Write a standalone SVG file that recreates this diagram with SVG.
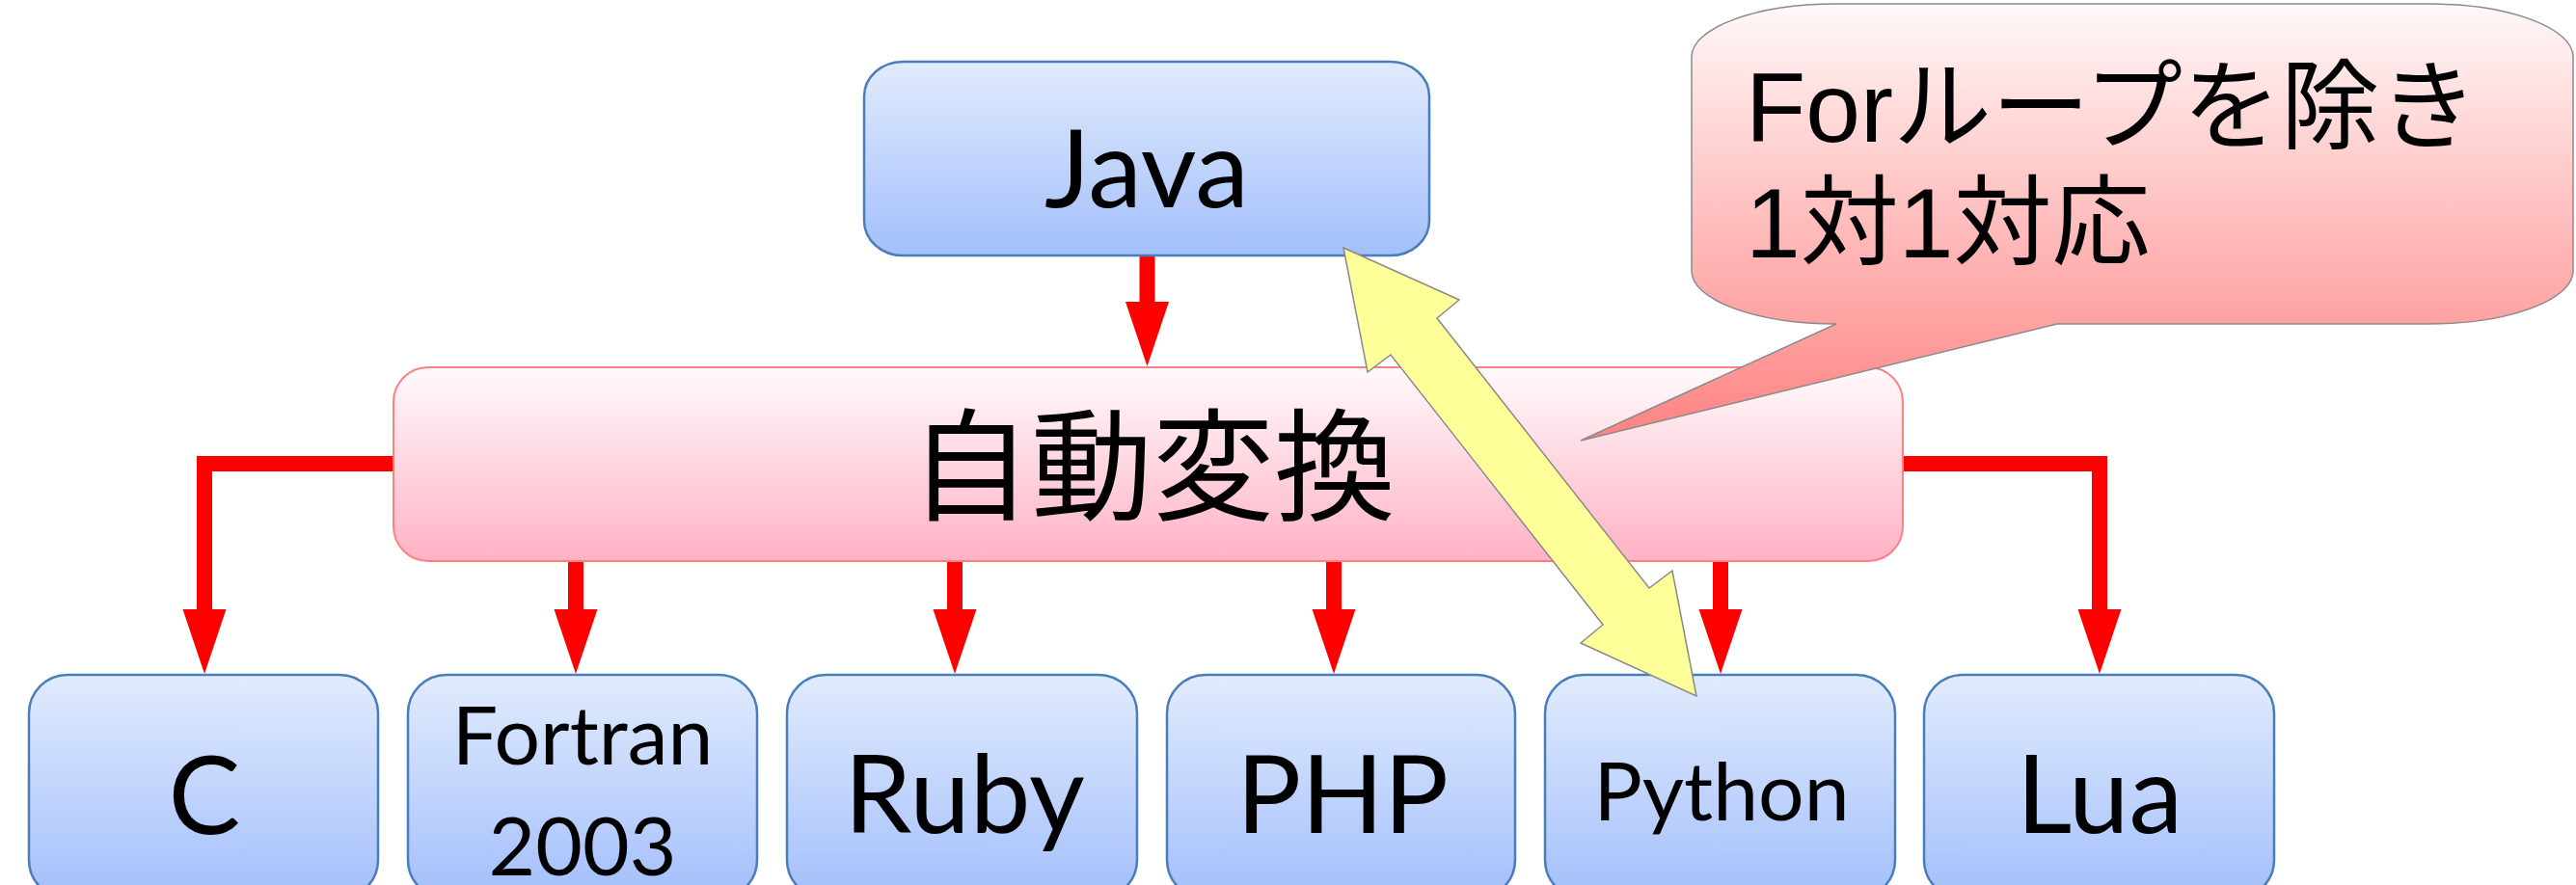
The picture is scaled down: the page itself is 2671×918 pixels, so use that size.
<svg xmlns="http://www.w3.org/2000/svg" width="2671" height="918" viewBox="0 0 2671 918">
  <defs>
    <linearGradient id="blueFill" x1="0" y1="0" x2="0" y2="1">
      <stop offset="0" stop-color="#e1ebfd"/>
      <stop offset="1" stop-color="#a3bffb"/>
    </linearGradient>
    <linearGradient id="pinkFill" x1="0" y1="0" x2="0" y2="1">
      <stop offset="0" stop-color="#fffafb"/>
      <stop offset="1" stop-color="#ffb2c5"/>
    </linearGradient>
    <linearGradient id="calloutFill" gradientUnits="userSpaceOnUse" x1="0" y1="4" x2="0" y2="457">
      <stop offset="0" stop-color="#fff8f8"/>
      <stop offset="1" stop-color="#ff8282"/>
    </linearGradient>
    <marker id="head" markerUnits="userSpaceOnUse" markerWidth="70" markerHeight="50" refX="0" refY="0" orient="auto" overflow="visible">
      <path d="M0,-22.5 L67,0 L0,22.5 Z" fill="#ff0000"/>
    </marker>
    <style>
      .lang rect { fill: url(#blueFill); stroke: #4a7ebb; stroke-width: 2.5; }
      .lang text { font-family: Lato, "Open Sans", sans-serif; fill: #000; text-anchor: middle; }
      .big { font-size: 112px; }
      .small { font-size: 84px; }
      .flow { fill: none; stroke: #ff0000; stroke-width: 16; stroke-linejoin: miter; marker-end: url(#head); }
    </style>
  </defs>

  <!-- red conversion connectors -->
  <g id="connectors">
    <path class="flow" d="M1189.5,265 V313"/>
    <path class="flow" d="M408,481 H212 V632"/>
    <path class="flow" d="M597,582 V632"/>
    <path class="flow" d="M990,582 V632"/>
    <path class="flow" d="M1383,582 V632"/>
    <path class="flow" d="M1784,582 V632"/>
    <path class="flow" d="M1973,481 H2177 V632"/>
  </g>

  <!-- source language -->
  <g id="java" class="lang">
    <rect x="896" y="64" width="586" height="201" rx="40" ry="36"/>
    <text class="big" x="1189" y="215">Java</text>
  </g>

  <!-- converter -->
  <g id="converter">
    <rect x="408" y="381" width="1565" height="201" rx="36" ry="36" fill="url(#pinkFill)" stroke="#ff8080" stroke-width="2"/>
    <text x="1195" y="530" font-family="'Noto Sans CJK JP', sans-serif" font-size="126" text-anchor="middle">自動変換</text>
  </g>

  <!-- target languages -->
  <g id="lang-c" class="lang">
    <rect x="30" y="700" width="362" height="232" rx="40" ry="40"/>
    <text class="big" x="212" y="865">C</text>
  </g>
  <g id="lang-fortran" class="lang">
    <rect x="423" y="700" width="362" height="232" rx="40" ry="40"/>
    <text class="small" x="604" y="793">Fortran</text>
    <text class="small" x="604" y="908">2003</text>
  </g>
  <g id="lang-ruby" class="lang">
    <rect x="816" y="700" width="363" height="232" rx="40" ry="40"/>
    <text class="big" x="1000" y="864">Ruby</text>
  </g>
  <g id="lang-php" class="lang">
    <rect x="1210" y="700" width="361" height="232" rx="40" ry="40"/>
    <text class="big" x="1392" y="864">PHP</text>
  </g>
  <g id="lang-python" class="lang">
    <rect x="1602" y="700" width="363" height="232" rx="40" ry="40"/>
    <text class="small" x="1785" y="851">Python</text>
  </g>
  <g id="lang-lua" class="lang">
    <rect x="1995" y="700" width="363" height="232" rx="40" ry="40"/>
    <text class="big" x="2177" y="864">Lua</text>
  </g>

  <!-- one-to-one correspondence between Java and Python -->
  <g id="one-to-one">
    <polygon points="1393,257 1513,311 1490,330 1710,610 1734,592 1759,722 1639,667 1662,648 1442,368 1418,386" fill="#ffff99" stroke="#8a8a8a" stroke-width="1.5" stroke-linejoin="miter"/>
  </g>

  <!-- note callout -->
  <g id="note">
    <path d="M1904,4 H2518 A150,55 0 0 1 2668,59 V281 A150,55 0 0 1 2518,336 H2133 L1639,457 L1904,336 A150,55 0 0 1 1754,281 V59 A150,55 0 0 1 1904,4 Z" fill="url(#calloutFill)" stroke="#8a8a8a" stroke-width="1.5"/>
    <text font-family="'Liberation Sans', 'Noto Sans CJK JP', sans-serif" font-size="102" fill="#000">
      <tspan x="1810" y="147">Forループを除き</tspan>
      <tspan x="1810" y="267">1対1対応</tspan>
    </text>
  </g>
</svg>
